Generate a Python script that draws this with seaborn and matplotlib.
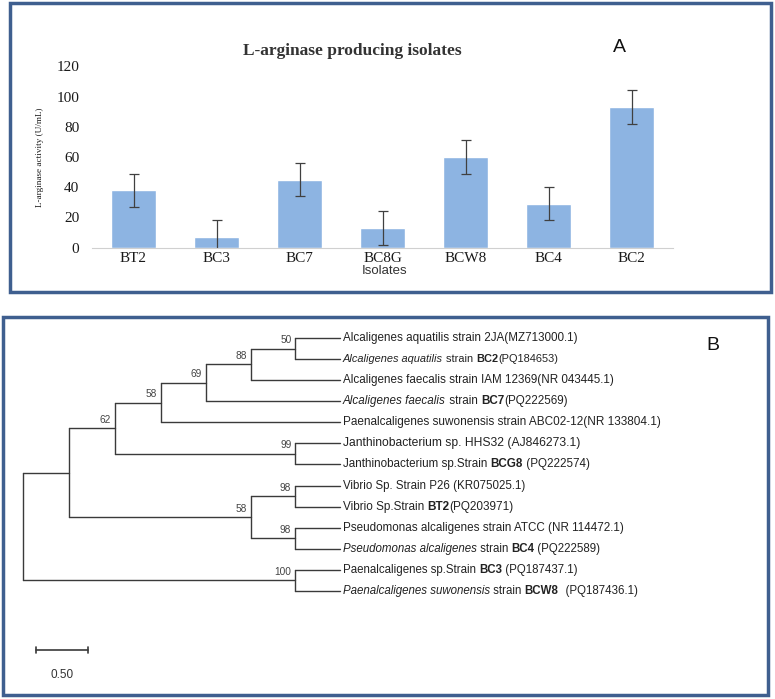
import matplotlib
matplotlib.use('Agg')
import matplotlib.pyplot as plt
import seaborn as sns
from matplotlib.patches import Rectangle

# ---- Panel A: L-arginase activity per isolate ----
isolates = ['BT2', 'BC3', 'BC7', 'BC8G', 'BCW8', 'BC4', 'BC2']
activity = [38, 7, 45, 13, 60, 29, 93]
activity_err = [11, 11, 11, 11, 11, 11, 11]
y_ticks = [0, 20, 40, 60, 80, 100, 120]

# ---- Panel B: phylogenetic tree ----
# leaf label pieces: (text, style) with n=normal, i=italic, b=bold
leaf_parts = [
    [('Alcaligenes aquatilis strain 2JA(MZ713000.1)', 'n')],
    [('Alcaligenes aquatilis', 'i'), (' strain ', 'n'), ('BC2', 'b'), ('(PQ184653)', 'n')],
    [('Alcaligenes faecalis strain IAM 12369(NR 043445.1)', 'n')],
    [('Alcaligenes faecalis', 'i'), (' strain ', 'n'), ('BC7', 'b'), ('(PQ222569)', 'n')],
    [('Paenalcaligenes suwonensis strain ABC02-12(NR 133804.1)', 'n')],
    [('Janthinobacterium sp. HHS32 (AJ846273.1)', 'n')],
    [('Janthinobacterium sp.Strain ', 'n'), ('BCG8', 'b'), (' (PQ222574)', 'n')],
    [('Vibrio Sp. Strain P26 (KR075025.1)', 'n')],
    [('Vibrio Sp.Strain ', 'n'), ('BT2', 'b'), ('(PQ203971)', 'n')],
    [('Pseudomonas alcaligenes strain ATCC (NR 114472.1)', 'n')],
    [('Pseudomonas alcaligenes', 'i'), (' strain ', 'n'), ('BC4', 'b'), (' (PQ222589)', 'n')],
    [('Paenalcaligenes sp.Strain ', 'n'), ('BC3', 'b'), (' (PQ187437.1)', 'n')],
    [('Paenalcaligenes suwonensis', 'i'), (' strain ', 'n'), ('BCW8', 'b'), ('  (PQ187436.1)', 'n')],
]
leaf_sizes = [8.4, 7.9, 8.4, 8.4, 8.5, 8.7, 8.4, 8.3, 8.5, 8.4, 8.3, 8.3, 8.3]
leaf_depth = 3.05

# internal nodes: children (indices; leaves are 0..12), depth, bootstrap
node_children = [(0, 1), (13, 2), (14, 3), (15, 4), (5, 6), (16, 17),
                 (7, 8), (9, 10), (19, 20), (18, 21), (11, 12), (22, 23)]
node_depth = [2.62, 2.19, 1.76, 1.33, 2.62, 0.885, 2.62, 2.62, 2.19, 0.44, 2.62, 0.0]
node_support = ['50', '88', '69', '58', '99', '62', '98', '98', '58', '', '100', '']

W, H = 775, 699
BORDER = '#3F5F8F'
LINE = '#3a3a3a'


def fx(px):
    return px / W


def fy(py):
    return 1 - py / H


sns.set_style('white')
plt.rcParams['font.family'] = ['Liberation Serif', 'DejaVu Serif']

fig = plt.figure(figsize=(W / 100, H / 100), dpi=100)

# ---------------- Panel A ----------------
ax_a = fig.add_axes([fx(92), fy(247.7), (673 - 92) / W, (247.7 - 66.3) / H])
sns.barplot(x=isolates, y=activity, color='#8DB4E2', saturation=1, width=0.55, ax=ax_a)
ax_a.errorbar(range(len(isolates)), activity, yerr=activity_err, fmt='none',
              ecolor='#404040', elinewidth=0.9, capsize=3.5, capthick=0.9)
ax_a.set_xlim(-0.5, len(isolates) - 0.5)
ax_a.set_ylim(0, 120)
ax_a.set_yticks(y_ticks)
for s in ['left', 'top', 'right']:
    ax_a.spines[s].set_visible(False)
ax_a.spines['bottom'].set_color('#d0d0d0')
ax_a.tick_params(axis='y', length=0, pad=9, labelsize=11, labelcolor='#1a1a1a')
ax_a.tick_params(axis='x', length=0, pad=3, labelsize=11, labelcolor='#1a1a1a')
ax_a.set_ylabel('L-arginase activity (U/mL)', fontsize=6.6, color='#1a1a1a')
ax_a.yaxis.set_label_coords(-0.083, 0.5)
ax_a.set_xlabel('Isolates', fontsize=9.5, family=['Liberation Sans', 'DejaVu Sans'], color='#333333')
ax_a.xaxis.set_label_coords(0.503, -0.095)

fig.text(fx(352), fy(51), 'L-arginase producing isolates', ha='center', va='center',
         fontsize=12.5, fontweight='bold', color='#333333')
fig.text(fx(619), fy(47), 'A', ha='center', va='center', fontsize=14,
         family=['Liberation Sans', 'DejaVu Sans'], color='#111111')

# ---------------- Panel B ----------------
ax_b = fig.add_axes([0, 0, 1, (H - 300) / H])
ax_b.set_xlim((0 - 23) / 104, (W - 23) / 104)
ax_b.set_ylim((H - 338) / 21.08, (300 - 338) / 21.08)
ax_b.axis('off')

n_leaves = len(leaf_parts)
ypos = {i: float(i) for i in range(n_leaves)}
xpos = {i: leaf_depth for i in range(n_leaves)}
for k, (a, b) in enumerate(node_children):
    idx = n_leaves + k
    ypos[idx] = (ypos[a] + ypos[b]) / 2
    xpos[idx] = node_depth[k]
    ax_b.plot([node_depth[k], node_depth[k]], [ypos[a], ypos[b]], color=LINE, lw=1)
    for c in (a, b):
        ax_b.plot([node_depth[k], xpos[c]], [ypos[c], ypos[c]], color=LINE, lw=1)
    if node_support[k]:
        ax_b.annotate(node_support[k], xy=(node_depth[k], ypos[idx]), xytext=(-3, 2.5),
                      textcoords='offset points', ha='right', va='bottom', fontsize=7.3,
                      family=['Liberation Sans', 'DejaVu Sans'], color='#444444')

leaf_font = ['Liberation Sans', 'DejaVu Sans']
style_kw = {'n': {}, 'i': {'style': 'italic'}, 'b': {'weight': 'bold'}}
for i, parts in enumerate(leaf_parts):
    prev = None
    for txt, st in parts:
        kw = dict(fontsize=leaf_sizes[i], family=leaf_font, color='#222222', ha='left', **style_kw[st])
        if prev is None:
            prev = ax_b.annotate(txt, xy=(leaf_depth, i), xytext=(2, 0), textcoords='offset points',
                                 va='center', **kw)
        else:
            prev = ax_b.annotate(txt, xy=(1, 0), xycoords=prev, va='bottom', **kw)

# scale bar (0.50 substitutions per site)
sb_x0, sb_len, sb_y = 0.125, 0.5, 14.8
ax_b.plot([sb_x0, sb_x0 + sb_len], [sb_y, sb_y], color=LINE, lw=1.2)
for xe in (sb_x0, sb_x0 + sb_len):
    ax_b.plot([xe, xe], [sb_y - 0.15, sb_y + 0.15], color=LINE, lw=1.2)
ax_b.text(sb_x0 + sb_len / 2, 16.0, '0.50', ha='center', va='center', fontsize=8.5,
          family=['Liberation Sans', 'DejaVu Sans'], color='#333333')

fig.text(fx(713), fy(346), 'B', ha='center', va='center', fontsize=14,
         family=['Liberation Sans', 'DejaVu Sans'], color='#111111')

# panel borders
for (x0, y0, x1, y1) in [(10, 3, 771, 292), (3, 317, 768, 695)]:
    fig.add_artist(Rectangle((fx(x0), fy(y1)), (x1 - x0) / W, (y1 - y0) / H,
                             transform=fig.transFigure, fill=False, ec=BORDER, lw=2.5))

fig.savefig('out.png', dpi=100)
